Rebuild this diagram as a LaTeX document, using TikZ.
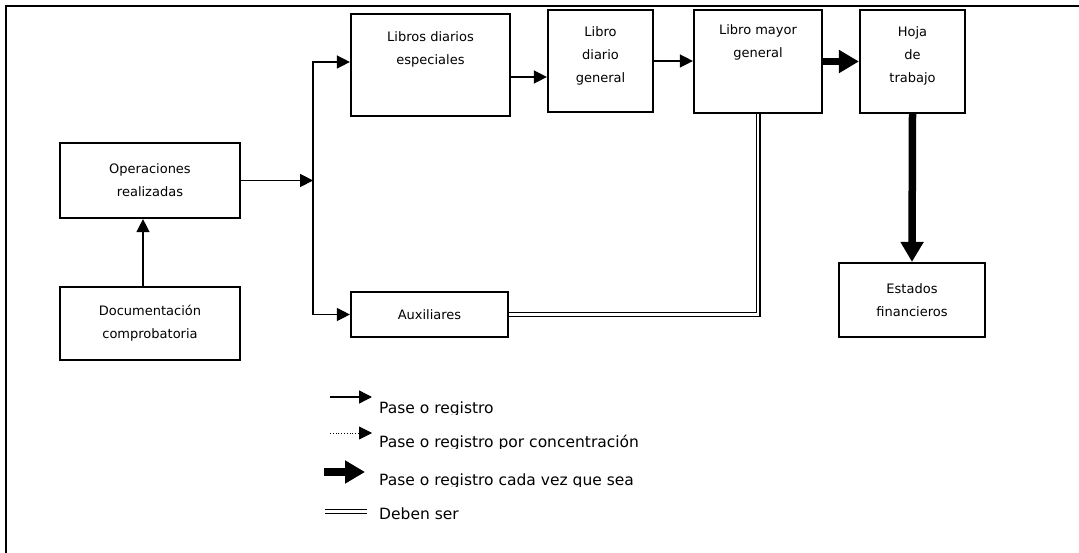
\documentclass[tikz,border=0pt]{standalone}
\usepackage{fontspec}
\setmainfont{DejaVu Sans}
\usetikzlibrary{arrows.meta}

\tikzset{
  caja/.style={draw, line width=2.2pt, align=center, inner sep=0pt,
    font=\fontsize{13}{23}\selectfont},
  titulo/.style={align=center, inner sep=0pt, anchor=north,
    font=\fontsize{13}{23}\selectfont},
  pase/.style={line width=1.4pt, -{Triangle[length=13pt,width=13pt]}},
  pasecada/.style={line width=7.5pt, -{Triangle[length=20pt,width=22pt]}},
  deben/.style={double, line width=1.3pt, double distance=2.4pt},
  leyenda/.style={anchor=base west, inner sep=0pt, font=\fontsize{15.5}{18}\selectfont}
}

\begin{document}
\begin{tikzpicture}[x=1pt, y=-1pt]
  \useasboundingbox (0,0) rectangle (1079,553);

  % marco
  \draw[line width=2pt] (1079,6) -- (6,6) -- (6,553);

  % cajas
  \node[caja, minimum width=180pt, minimum height=75pt] (oper) at (150,180.5) {Operaciones\\realizadas};
  \node[caja, minimum width=180pt, minimum height=73pt] (docu) at (150,323.5) {Documentación\\comprobatoria};
  \node[caja, minimum width=159pt, minimum height=102pt,
    label={[titulo, yshift=-19pt]north:{Libros diarios\\especiales}}] (esp) at (430.5,65) {};
  \node[caja, minimum width=105pt, minimum height=102pt,
    label={[titulo, yshift=-18pt]north:{Libro\\diario\\general}}] (gen) at (600.5,61) {};
  \node[caja, minimum width=128pt, minimum height=103pt,
    label={[titulo, yshift=-16pt]north:{Libro mayor\\general}}] (mayor) at (758,61.5) {};
  \node[caja, minimum width=105pt, minimum height=103pt,
    label={[titulo, yshift=-18pt]north:{Hoja\\de\\trabajo}}] (hoja) at (912.5,61.5) {};
  \node[caja, minimum width=146pt, minimum height=74pt] (est) at (912,300) {Estados\\financieros};
  \node[caja, minimum width=157pt, minimum height=45pt] (aux) at (429.5,314.5) {Auxiliares};

  % conexiones
  \draw[pase] ([xshift=-7pt]docu.north) -- ([xshift=-7pt]oper.south);
  \draw[pase] (oper.east) -- ++(72pt,0) coordinate (nodo);
  \draw[pase] (nodo) |- ([yshift=3pt]esp.west);
  \draw[pase] (nodo) |- (aux.west);
  \draw[pase] ([yshift=-12pt]esp.east) -- ([yshift=-12pt]esp.east -| gen.west);
  \draw[pase] (gen.east) -- (gen.east -| mayor.west);
  \draw[pasecada] (mayor.east) -- (mayor.east -| hoja.west);
  \draw[pasecada] (hoja.south) -- (est.north);
  \draw[deben] (mayor.south) |- (aux.east);

  % leyenda
  \draw[pase] (330,397) -- (372,397);
  \draw[pase, line width=0.8pt, dotted] (330,433) -- (372,433);
  \draw[pasecada] (324,472) -- (365,472);
  \draw[deben] (325,511.5) -- (367,511.5);
  \begin{scope}
    \clip (375,385) rectangle (760,414) (375,420) rectangle (760,448) (375,458) rectangle (760,486);
    \node[leyenda] (ley1) at (379,413) {Pase o registro};
    \node[leyenda] (ley2) at (379,447) {Pase o registro por concentración};
    \node[leyenda] (ley3) at (379,485) {Pase o registro cada vez que sea};
  \end{scope}
  \node[leyenda] (ley4) at (379,519) {Deben ser};
\end{tikzpicture}
\end{document}
